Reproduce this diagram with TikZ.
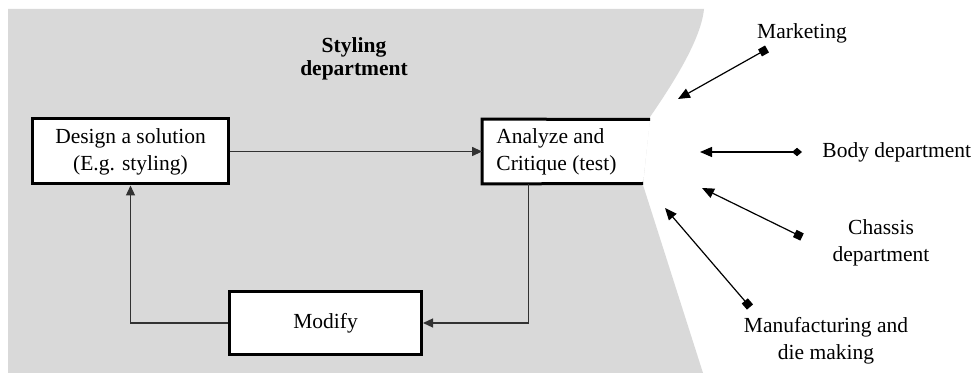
\documentclass[tikz,border=0pt]{standalone}
\usepackage{fontspec}
\setmainfont{Liberation Serif}
\usetikzlibrary{arrows.meta}
\definecolor{panel}{RGB}{217,217,217}
\definecolor{wire}{RGB}{50,50,50}
\begin{document}
\begin{tikzpicture}[x=0.5pt,y=-0.5pt,
  every node/.style={font=\fontsize{10.75}{13.5}\selectfont, inner sep=0pt},
  box/.style={draw=black, line width=1.5pt, fill=white, rectangle, align=center},
  flow/.style={draw=wire, line width=0.6pt, -{Triangle[length=5pt,width=4.5pt]}},
  link/.style={draw=black, line width=0.6pt},
  sqend/.style={link, {Triangle[length=6pt,width=5pt]}-{Square[length=4pt,width=4pt]}},
  dmend/.style={link, {Triangle[length=6pt,width=5pt]}-{Diamond[length=5pt,width=4.2pt]}}]
\useasboundingbox (0,0) rectangle (972,373);

% styling department area
\fill[panel] (8,9) -- (704,9) .. controls (701,40) and (672,85) .. (650,117)
  -- (643,185) -- (703,373) -- (8,373) -- cycle;

\node[font=\bfseries\fontsize{10.75}{11.5}\selectfont, align=center] (title) at (354,59) {Styling\\department};

% process boxes
\node[box, minimum width=97.75pt, minimum height=32.5pt] (design) at (130.5,151.5)
  {Design a solution\\(E.g. styling)};
\node[box, minimum width=96pt, minimum height=31.5pt] (modify) at (325.5,323) {Modify};

% open-ended analysis box
\node[rectangle, minimum width=81.75pt, minimum height=32pt] (analyze) at (564.25,151.5) {};
\fill[white] (analyze.north west) -- (650,119.5) -- (643,183.5) -- (analyze.south west) -- cycle;
\draw[line width=1.5pt] (643,183.5) -- (analyze.south west) -- (analyze.north west) -- (650,119.5);
\node[anchor=west, align=left] (analyzetext) at (496,151.5) {Analyze and\\Critique (test)};

% design loop
\draw[flow] (design.east) -- (design.east -| analyze.west);
\draw[flow] ([xshift=23.25pt]analyze.south west) |- (modify.east);
\draw[flow] (modify.west) -| (design.south);

% other departments
\node (marketing) at (802,33) {Marketing};
\node[anchor=west] (body) at (822,152) {Body department};
\node[align=center] (chassis) at (881,243) {Chassis\\department};
\node[align=center] (manuf) at (826,341) {Manufacturing and\\die making};

\coordinate (mk-in) at (678,99);   \coordinate (mk-out) at (767,49);
\coordinate (bd-in) at (700,152);  \coordinate (bd-out) at (802,152);
\coordinate (ch-in) at (702,188);  \coordinate (ch-out) at (802,237);
\coordinate (mf-in) at (665,208);  \coordinate (mf-out) at (750,307);

\draw[sqend] (mk-in) -- (mk-out);
\draw[dmend] (bd-in) -- (bd-out);
\draw[sqend] (ch-in) -- (ch-out);
\draw[sqend] (mf-in) -- (mf-out);
\end{tikzpicture}
\end{document}
